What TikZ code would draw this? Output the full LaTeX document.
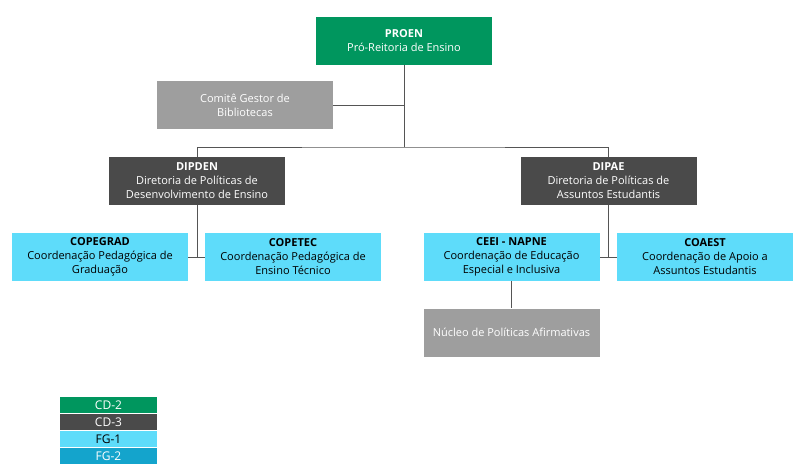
\documentclass[tikz,border=0pt]{standalone}
\usepackage{fontspec}
\setmainfont{Open Sans}
\usetikzlibrary{positioning}
\definecolor{cdgreen}{RGB}{0,150,94}
\definecolor{cddark}{RGB}{74,74,74}
\definecolor{fglight}{RGB}{94,220,250}
\definecolor{fgblue}{RGB}{20,164,204}
\definecolor{comgray}{RGB}{158,158,158}
\definecolor{linegray}{RGB}{85,85,85}
\begin{document}
\begin{tikzpicture}[x=1pt,y=-1pt,
	box/.style={minimum width=176pt,minimum height=48pt,inner sep=0pt,align=center,font=\fontsize{11}{14}\selectfont},
	green/.style={box,fill=cdgreen,text=white},
	dark/.style={box,fill=cddark,text=white},
	grey/.style={box,fill=comgray,text=white},
	light/.style={box,fill=fglight,text=black},
	key/.style={minimum width=97pt,minimum height=16.6pt,inner sep=0pt,font=\fontsize{12}{13}\selectfont},
	link/.style={draw=linegray,line width=0.9pt}]
	\useasboundingbox[fill=white] (0,0) rectangle (796,472);
	% top level
	\node[green] (proen) at (404,40.5) {\textbf{PROEN}\\Pró-Reitoria de Ensino};
	\node[grey] (comite) at (245,105) {Comitê Gestor de\\Bibliotecas};
	\coordinate (bus) at (404,147);
	% directorates
	\node[dark] (dipden) at (197,181) {\textbf{DIPDEN}\\Diretoria de Políticas de\\Desenvolvimento de Ensino};
	\node[dark] (dipae) at (608.5,181) {\textbf{DIPAE}\\Diretoria de Políticas de\\Assuntos Estudantis};
	% coordinations
	\node[light] (copegrad) at (100,257) {\textbf{COPEGRAD}\\Coordenação Pedagógica de\\Graduação};
	\node[light] (copetec) at (293,257) {\textbf{COPETEC}\\Coordenação Pedagógica de\\Ensino Técnico};
	\node[light] (ceei) at (511.5,257) {\textbf{CEEI - NAPNE}\\Coordenação de Educação\\Especial e Inclusiva};
	\node[light] (coaest) at (705,257) {\textbf{COAEST}\\Coordenação de Apoio a\\Assuntos Estudantis};
	\node[grey] (nucleo) at (511.5,332.5) {Núcleo de Políticas Afirmativas};
	% connectors
	\draw[link] (proen.south) -- (bus);
	\draw[link] (comite.east) -- (comite.east -| bus);
	\draw[link] (dipden.north) |- (bus) -| (dipae.north);
	\draw[link] (dipden.south) |- (copegrad.east);
	\draw[link] (dipden.south |- copetec.west) -- (copetec.west);
	\draw[link] (dipae.south) |- (ceei.east);
	\draw[link] (dipae.south |- coaest.west) -- (coaest.west);
	\draw[link] (ceei.south) -- (nucleo.north);
	% legend
	\node[key,fill=cdgreen,text=white] (kcd2) at (108.5,405) {CD-2};
	\node[key,fill=cddark,text=white,below=0pt of kcd2] (kcd3) {CD-3};
	\node[key,fill=fglight,text=black,below=0pt of kcd3] (kfg1) {FG-1};
	\node[key,fill=fgblue,text=white,below=0pt of kfg1] (kfg2) {FG-2};
\end{tikzpicture}
\end{document}
